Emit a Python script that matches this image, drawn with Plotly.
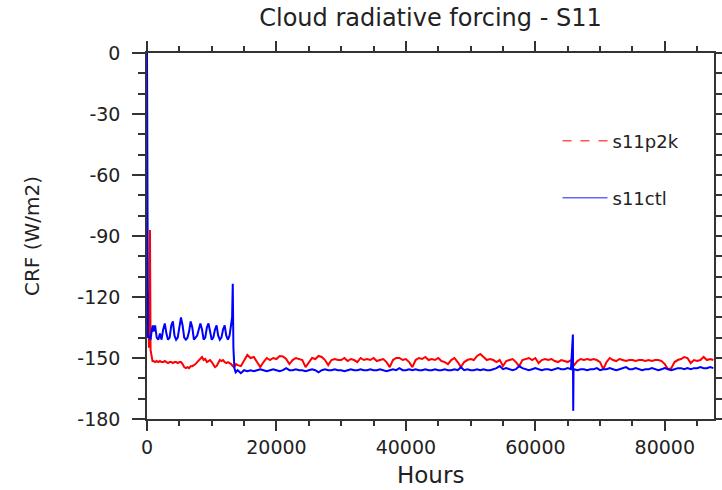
import numpy as np
import plotly.graph_objects as go

# ---------------- data ----------------
# s11p2k (red) early hours
red_early_hours = [0, 100, 200, 300, 400, 460, 550, 700, 850]
red_early_vals = [-110, -138, -118, -145, -125, -87, -146, -150, -151.5]
# s11p2k 1000..13750 every 250 h
red_spin_vals = [
    -151.5, -152, -151.5, -152, -151.5, -152, -152, -151.5, -152, -152.5,
    -152, -152, -152.5, -152, -152, -152.5, -152, -152, -153, -154.5,
    -155, -154.5, -155, -154, -154, -153.5, -153, -152, -151, -150,
    -149.5, -151, -150.5, -152, -151.5, -151, -152, -153.5, -154.5, -154,
    -152, -151, -151.5, -151, -152, -152.5, -152, -152.5, -153, -154,
    -154.5, -153,
]
# s11p2k 14000..87500 every 500 h
red_main_vals = [
    -153.5, -154, -151, -148.5, -150, -149.5, -152, -154.5, -152, -150,
    -151, -150, -150.5, -149, -149.2, -150.5, -153, -151, -150, -150.5,
    -151, -154.5, -152, -150, -150.5, -149, -149.5, -151, -153.5, -151,
    -150.5, -151, -151, -150, -151.5, -150.5, -151, -152, -150, -151,
    -150.5, -151, -150, -151.5, -151, -150.5, -152, -154.5, -151, -150,
    -150, -151, -150.5, -152, -154.5, -151, -150, -150.5, -149.5, -151,
    -150.5, -151, -150, -151.5, -152, -153, -151, -150, -152, -154.5,
    -152, -151, -150.5, -151, -149, -148, -149.5, -151, -150.5, -151,
    -152, -151, -154, -151.5, -151, -150.5, -152, -154, -151, -150.5,
    -150, -151, -150, -152.5, -151, -150.5, -151, -150.5, -151.5, -152,
    -151, -151.5, -152, -151, -153.5, -151.5, -150.5, -151, -150.5, -151,
    -150.5, -151, -152, -155.5, -152, -150, -151, -151.5, -150.5, -151,
    -151.5, -151, -151, -151.5, -151, -151, -151.5, -151, -151.5, -151,
    -151, -151.5, -153, -155.5, -155, -152, -151, -150.5, -149.5, -150,
    -152.5, -151, -151.5, -151, -149.5, -151, -150.5, -151,
]

# s11ctl (blue) early hours
blue_early_hours = [0, 150, 350, 550, 750, 900]
blue_early_vals = [0, -140, -139, -141, -136, -134]
# s11ctl 1000..13000 every 250 h
blue_spin_vals = [
    -137, -134, -140, -141, -138, -141, -136, -133, -138, -141,
    -140, -134, -132, -139, -141, -140, -135, -130, -134, -140,
    -141, -140, -137, -132, -135, -141, -140, -139, -136, -133,
    -136, -141, -140, -135, -133, -138, -141, -140, -136, -134,
    -139, -141, -140, -136, -134, -139, -141, -139, -134,
]
# jump around 13250 h
blue_jump_hours = [13150, 13250, 13350, 13500, 13700]
blue_jump_vals = [-130, -113.5, -145, -155, -157]
# s11ctl 14000..87500 every 500 h
blue_main_vals = [
    -156, -157.5, -156, -156.5, -156, -156.5, -156, -155.5, -156, -156.5,
    -156, -155.5, -156, -156.5, -156, -155, -156, -156, -155.5, -156,
    -156, -156.5, -156, -155.5, -156, -157, -156, -155.5, -156, -156,
    -155.5, -156, -156, -156.5, -156, -155.5, -156, -156, -155.5, -156,
    -156, -155.5, -156, -156, -155.5, -156, -156.5, -156, -155.5, -156,
    -155, -156, -156, -155.5, -156, -155.5, -156, -156, -155.5, -156,
    -156, -155.5, -156, -156, -155.5, -156, -156, -155.5, -156, -154.5,
    -156, -155.5, -156, -156, -155.5, -156, -155.5, -156, -156, -155.5,
    -155, -154, -155.5, -155, -155.5, -156, -155.5, -154, -155, -155.5,
    -156, -155.5, -155, -155.5, -156, -155.5, -155.5, -156, -155.5, -155,
    -155.5, -155.5, -155, -155.5, -155.5, -156, -155.5, -155.5, -156, -155.5,
    -155.5, -155, -156, -155.5, -155.5, -155, -155.5, -156, -155.5, -155,
    -154.5, -155.5, -155.5, -155, -155.5, -156, -155.5, -155.5, -155, -155.5,
    -156, -155.5, -155, -155.5, -156, -155.5, -155, -155, -155.5, -155,
    -155.5, -155, -155, -154.5, -155, -155, -154.5, -155,
]
# short excursion around 65850 h
blue_spike_hours = [65800, 65850, 65900]
blue_spike_vals = [-138.5, -176, -155.5]

x_ticks = [0, 20000, 40000, 60000, 80000]
x_tick_labels = ["0", "20000", "40000", "60000", "80000"]
y_ticks = [0, -30, -60, -90, -120, -150, -180]
y_tick_labels = ["0", "-30", "-60", "-90", "-120", "-150", "-180"]

# ---------------- assemble series ----------------
red_x = np.concatenate([red_early_hours,
                        np.arange(1000, 1000 + 250 * len(red_spin_vals), 250),
                        np.arange(14000, 14000 + 500 * len(red_main_vals), 500)])
red_y = np.concatenate([red_early_vals, red_spin_vals, red_main_vals])

blue_x = np.concatenate([blue_early_hours,
                         np.arange(1000, 1000 + 250 * len(blue_spin_vals), 250),
                         blue_jump_hours,
                         np.arange(14000, 14000 + 500 * len(blue_main_vals), 500),
                         blue_spike_hours])
blue_y = np.concatenate([blue_early_vals, blue_spin_vals, blue_jump_vals,
                         blue_main_vals, blue_spike_vals])
order = np.argsort(blue_x, kind="stable")
blue_x, blue_y = blue_x[order], blue_y[order]

FONT = "DejaVu Sans"
TXT = "#222222"
AX = "#333333"

fig = go.Figure()
fig.add_trace(go.Scatter(x=red_x, y=red_y, mode="lines",
                         line=dict(color="#ff0000", width=2), showlegend=False))
fig.add_trace(go.Scatter(x=blue_x, y=blue_y, mode="lines",
                         line=dict(color="#0000ff", width=2), showlegend=False))
# legend entries
fig.add_trace(go.Scatter(x=[None], y=[None], mode="lines", name="s11p2k",
                         line=dict(color="#ff5555", width=1.5, dash="dash"),
                         legend="legend"))
fig.add_trace(go.Scatter(x=[None], y=[None], mode="lines", name="s11ctl",
                         line=dict(color="#6666ff", width=1.5),
                         legend="legend2"))

axis_common = dict(showgrid=False, zeroline=False, showline=True, linecolor=AX,
                   linewidth=1.5, mirror="ticks", ticks="outside", tickcolor=AX,
                   tickwidth=1.5, tickfont=dict(family=FONT, size=19, color=TXT))

fig.update_xaxes(range=[0, 87600], tickvals=x_ticks, ticktext=x_tick_labels,
                 ticklen=10, ticklabelstandoff=0,
                 minor=dict(dtick=5000, tick0=0, ticks="outside", ticklen=5,
                            tickcolor=AX, tickwidth=1.5),
                 **axis_common)
fig.update_yaxes(range=[-180, 0], tickvals=y_ticks, ticktext=y_tick_labels,
                 ticklen=13, ticklabelstandoff=8,
                 minor=dict(dtick=10, tick0=0, ticks="outside", ticklen=7,
                            tickcolor=AX, tickwidth=1.5),
                 **axis_common)

leg_common = dict(xanchor="left", yanchor="middle", bgcolor="rgba(0,0,0,0)",
                  borderwidth=0, itemwidth=45,
                  font=dict(family=FONT, size=18, color=TXT))
fig.update_layout(
    width=722, height=490,
    margin=dict(l=147, r=8, t=53, b=71, autoexpand=False),
    plot_bgcolor="white", paper_bgcolor="white",
    title=dict(text="Cloud radiative forcing - S11", x=0.5, xref="paper",
               xanchor="center", y=1 - 18 / 490, yanchor="middle",
               font=dict(family=FONT, size=24, color=TXT)),
    legend=dict(x=0.724, y=0.7596, **leg_common),
    legend2=dict(x=0.724, y=0.6038, **leg_common),
    annotations=[
        dict(text="Hours", xref="paper", yref="paper", x=0.5, y=-56 / 366,
             xanchor="center", yanchor="middle", showarrow=False,
             font=dict(family=FONT, size=23, color=TXT)),
        dict(text="CRF (W/m2)", xref="paper", yref="paper", x=-115 / 567,
             y=0.5, xanchor="center", yanchor="middle", textangle=-90,
             showarrow=False, font=dict(family=FONT, size=20, color=TXT)),
    ],
)

fig.write_html("out.html")
